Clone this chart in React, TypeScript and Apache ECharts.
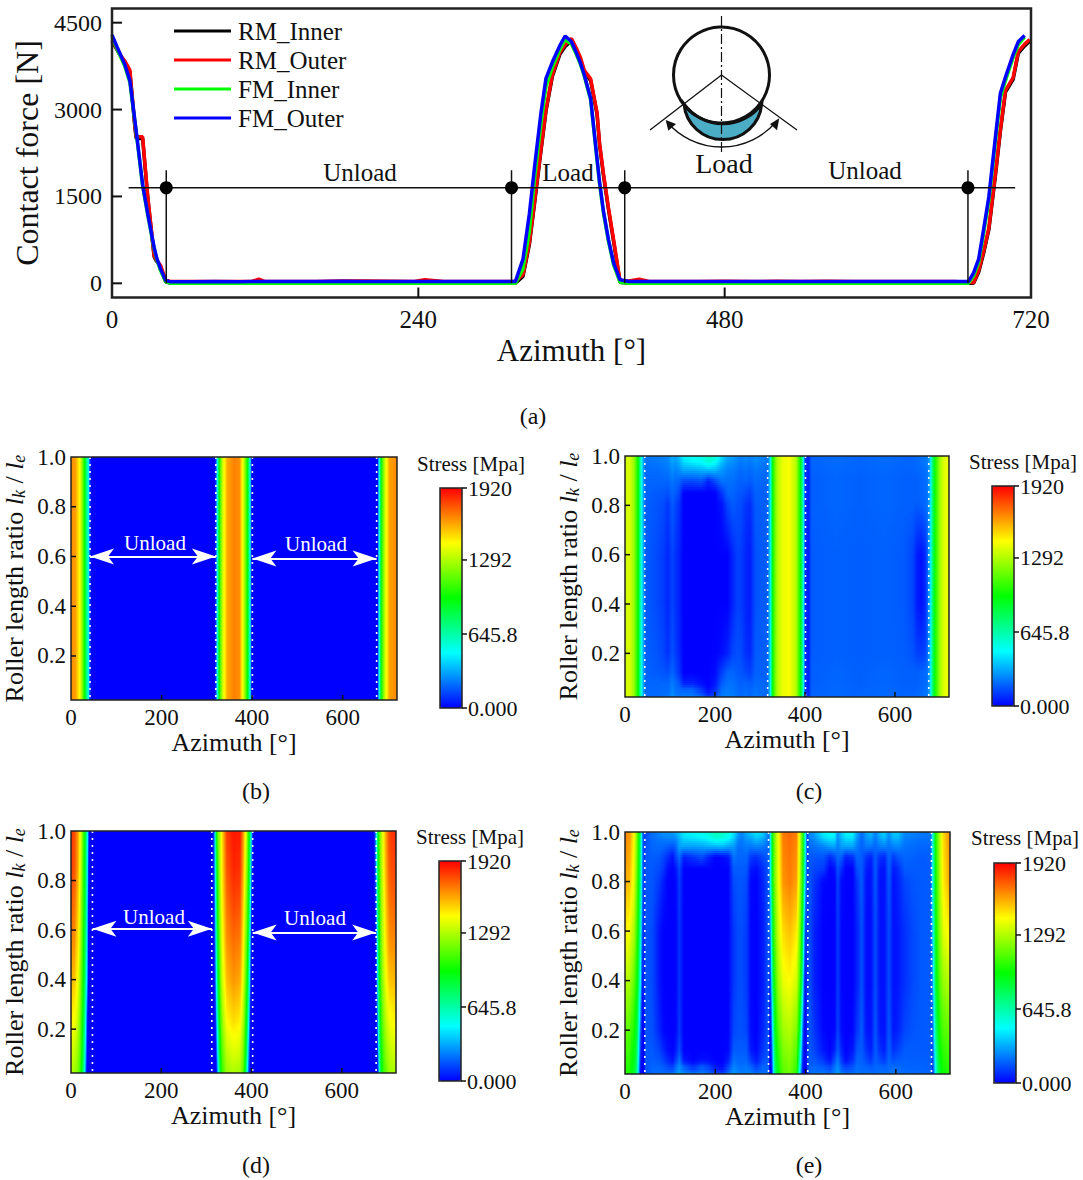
import React, { useEffect, useRef } from "react";
import * as echarts from "echarts";

const FONT = "Liberation Serif";

// ---------- (a) contact force ----------
const azimuth = [0,4,7,10,14,18,19,24,28,33,35,38,42,46,60,80,100,110,115,120,140,160,180,200,220,237,245,260,280,300,316,322,327,331,336,340,345,351,355,360,364,367,370,375,380,382,385,389,393,398,405,413,420,440,460,480,500,520,540,560,580,600,620,640,660,671,675,679,683,687,692,696,700,706,710,715,719];
const rmInner = [4180,4030,3910,3820,3650,2680,2500,2500,1480,460,380,290,30,0,0,0,0,0,0,0,0,0,0,0,0,0,0,0,0,0,0,120,670,1370,2270,2970,3570,3960,4090,4190,4020,3870,3650,3500,2920,2390,1870,1270,720,20,0,0,0,0,0,0,0,0,0,0,0,0,0,0,0,0,0,190,530,930,1840,2620,3300,3520,3970,4100,4180];
const rmOuter = [4200,4050,3930,3840,3680,2700,2530,2530,1500,480,400,310,60,30,30,30,30,35,70,30,30,30,40,40,35,30,60,30,30,30,30,150,700,1400,2300,3000,3600,3990,4120,4225,4050,3900,3680,3530,2950,2415,1900,1300,750,50,40,70,35,30,30,35,30,35,30,35,30,30,30,30,30,20,10,220,560,960,1870,2650,3330,3550,4000,4130,4210];
const fmInner = [4250,4050,3900,3750,3470,2780,2600,1680,1180,600,420,220,30,0,0,0,0,0,0,0,0,0,0,0,0,0,0,0,0,0,0,250,900,1800,2750,3400,3730,4040,4210,4130,3940,3780,3580,3170,2130,1720,1220,720,320,20,0,0,0,0,0,0,0,0,0,0,0,0,0,0,0,0,130,360,880,1430,2430,3200,3500,3900,4120,4250,null];
const fmOuter = [4290,4080,3930,3780,3500,2800,2620,1700,1200,620,440,250,50,25,25,30,25,30,30,30,30,30,35,30,30,30,30,30,30,30,30,420,1200,2000,2930,3540,3820,4110,4270,4170,3970,3800,3600,3190,2150,1750,1250,750,350,60,30,30,30,30,30,30,30,30,30,30,30,30,30,30,30,30,180,420,950,1500,2500,3280,3560,3950,4170,4280,null];
const forceSeriesNames = ["RM_Inner", "RM_Outer", "FM_Inner", "FM_Outer"];
const forceSeriesColors = ["#000000", "#ff0000", "#00ff00", "#0000ff"];
const forceSeriesValues = [rmInner, rmOuter, fmInner, fmOuter];
const boundaryLevel = 1650;
const boundaryTop = 1950;
const boundarySpan = [13, 707.6];
const boundaryAzimuths = [42.5, 313, 401.7, 670.6];
const forceTicks = [0, 1500, 3000, 4500];
const forceAzimuthTicks = [0, 240, 480, 720];
const forceYRange = [-245, 4745];

// ---------- (b)-(e) stress maps ----------
const ratioTicks = [0.2, 0.4, 0.6, 0.8, 1.0];
const mapAzimuthTicks = [0, 200, 400, 600];
const ratioRange = [0.023, 1];
const uniformY = [1, 0.023];
const gridY13 = [1, 0.97, 0.94, 0.9, 0.85, 0.8, 0.6, 0.4, 0.2, 0.12, 0.08, 0.05, 0.023];
const gridY8 = [1, 0.85, 0.7, 0.55, 0.4, 0.25, 0.1, 0.023];
const gridY6 = [1, 0.8, 0.6, 0.4, 0.2, 0.023];

// panel (b): no variation along the roller
const bAzimuth = [0,10,19,23,30,38,42,45,318,320,323,327,335,345,360,372,380,387,392,396,398,400,677,679,682,685,690,695,704,720];
const bStress = [1660,1620,1440,1300,960,520,100,0,0,120,480,960,1350,1600,1680,1650,1400,1100,800,450,100,0,0,300,620,960,1200,1400,1620,1660];

// panel (d)
const dBand1X = [0,8,16,22,26,30,33,36,38,40,44];
const dBand1 = [
  [1820,1780,1600,1350,1150,950,780,520,250,0,0],
  [1800,1760,1580,1330,1120,920,750,480,120,0,0],
  [1740,1700,1520,1280,1090,900,720,430,60,0,0],
  [1670,1640,1470,1240,1050,860,680,380,20,0,0],
  [1580,1550,1400,1190,1000,820,620,300,0,0,0],
  [1470,1440,1310,1120,940,730,440,60,0,0,0],
  [1350,1320,1220,1050,860,620,250,0,0,0,0],
  [1280,1260,1170,1000,800,540,120,0,0,0,0],
];
const dBand2X = [310,314,317,320,323,326,330,335,345,360,375,382,386,389,392,395,398,401,404];
const dBand2 = [
  [0,0,200,650,1000,1200,1300,1500,1800,1880,1870,1650,1480,1350,1150,950,750,350,0],
  [0,0,120,560,900,1120,1300,1480,1760,1850,1830,1600,1430,1290,1120,920,680,200,0],
  [0,0,60,430,800,1060,1250,1450,1700,1790,1760,1530,1350,1220,1050,840,520,50,0],
  [0,0,20,320,720,980,1200,1400,1640,1710,1680,1470,1290,1160,980,760,350,0,0],
  [0,0,0,220,600,900,1120,1340,1560,1640,1600,1400,1220,1080,890,650,200,0,0],
  [0,0,0,80,450,760,1020,1240,1450,1520,1480,1300,1120,960,760,450,50,0,0],
  [0,0,0,0,200,600,900,1120,1310,1370,1340,1180,1000,820,550,200,0,0,0],
  [0,0,0,0,80,450,820,1060,1240,1280,1260,1120,900,700,400,100,0,0,0],
];
const dBand3X = [672,676,679,682,685,688,692,698,706,720];
const dBand3 = [
  [0,300,750,1000,1180,1300,1430,1620,1800,1840],
  [0,200,680,950,1140,1270,1400,1590,1760,1800],
  [0,80,560,900,1100,1240,1360,1540,1700,1740],
  [0,30,430,850,1050,1200,1320,1490,1640,1670],
  [0,0,300,760,1000,1150,1270,1420,1550,1580],
  [0,0,150,620,900,1060,1190,1320,1430,1470],
  [0,0,0,400,780,970,1090,1210,1310,1350],
  [0,0,0,250,700,900,1040,1150,1250,1280],
];
const zeroRow = [0, 0];

// panel (c)
const cBand1X = [0,10,20,26,30,34,38,41,44];
const cBand1 = [1340,1370,1240,1050,900,650,420,300,210];
const cUnloadLX = [44,70,85,95,105,112,120,130,150,170,185,200,215,228,240,250,258,268,278,290,305,318];
const cUnloadL = [
  [220,230,240,260,330,300,360,470,520,540,600,560,420,320,300,260,240,260,240,270,250,230],
  [210,220,230,240,300,280,320,400,440,470,540,480,350,280,260,240,220,240,220,250,230,210],
  [200,200,210,220,260,240,260,300,300,320,330,330,280,240,230,210,200,210,200,220,210,200],
  [190,190,190,190,220,200,190,140,140,160,60,140,220,210,210,190,180,190,170,200,190,190],
  [185,170,165,150,190,170,130,0,0,0,0,0,100,190,190,170,160,140,120,180,180,185],
  [180,160,140,100,170,130,90,0,0,0,0,0,30,130,170,150,140,100,80,170,175,180],
  [175,140,110,70,130,90,60,0,0,0,0,0,0,0,70,120,110,70,50,150,170,175],
  [175,140,110,70,130,90,60,0,0,0,0,0,0,0,70,120,110,70,50,150,170,175],
  [180,160,130,90,150,110,70,0,0,0,0,0,20,60,130,150,140,90,70,170,175,180],
  [185,170,160,150,190,150,100,0,0,0,0,20,120,190,190,170,160,140,120,180,180,185],
  [190,190,190,190,230,200,160,60,60,20,0,40,170,210,210,190,180,190,170,200,190,190],
  [195,195,200,200,250,210,200,190,190,100,20,80,210,230,220,200,190,200,190,210,200,195],
  [200,200,210,220,280,240,220,240,240,200,110,150,240,250,240,210,200,220,200,230,210,200],
];
const cBand2X = [318,321,324,327,331,338,350,365,380,386,390,394,397,400];
const cBand2 = [230,320,500,880,1080,1280,1400,1430,1300,1100,950,700,420,130];
const cUnloadRX = [400,408,415,430,470,520,580,620,640,650,660,668,674];
const cUnloadR = [
  [100,70,190,190,200,190,200,190,190,200,210,220,240],
  [100,70,190,190,200,190,200,190,190,200,210,220,240],
  [100,65,185,185,195,185,195,185,185,190,200,210,235],
  [100,60,180,180,190,180,190,180,180,180,190,200,225],
  [100,60,180,180,190,180,190,180,180,180,190,200,225],
  [100,60,180,180,190,180,190,180,180,170,180,200,225],
  [90,50,170,175,180,175,180,170,130,50,30,80,200],
  [90,50,170,175,180,175,180,170,130,50,30,80,200],
  [90,50,170,175,180,175,180,175,155,120,110,130,210],
  [100,60,180,180,190,180,190,180,180,180,190,200,225],
  [100,60,180,180,190,180,190,180,180,180,190,200,225],
  [100,65,185,185,195,185,195,185,185,190,200,210,235],
  [100,70,190,190,200,190,200,190,190,200,210,220,240],
];
const cBand3X = [674,677,680,684,690,700,710,720];
const cBand3 = [240,300,470,750,1000,1260,1390,1400];

// panel (e)
const eBand1X = [0,10,20,26,30,34,38,41,44];
const eBand1 = [
  [1680,1640,1440,1200,980,740,300,140,100],
  [1600,1560,1380,1150,950,720,260,120,100],
  [1460,1420,1280,1080,880,640,170,90,90],
  [1300,1280,1140,980,780,480,60,60,80],
  [1150,1120,1000,860,600,200,0,20,60],
  [1030,1000,880,730,330,30,0,0,50],
];
const eUnloadLX = [44,60,75,85,95,105,112,120,130,150,170,185,200,215,228,240,250,258,268,278,290,305,318];
const eUnloadL = [
  [130,210,250,280,280,290,330,380,450,480,520,560,620,600,550,440,300,250,330,380,440,400,220],
  [140,200,220,230,240,240,250,330,400,420,440,480,540,520,470,380,250,230,280,300,360,320,200],
  [150,190,200,190,170,150,190,300,300,290,300,320,330,340,300,280,210,210,230,220,240,220,190],
  [155,175,170,130,80,30,120,200,60,100,140,60,0,10,40,220,190,190,190,110,90,140,180],
  [160,165,140,100,20,0,30,130,0,0,0,0,0,0,0,170,170,170,170,40,20,90,170],
  [160,160,110,50,0,0,10,110,0,0,0,0,0,0,0,140,160,160,140,10,0,70,170],
  [160,140,40,0,0,0,0,90,0,0,0,0,0,0,0,100,140,140,110,10,0,50,170],
  [160,140,40,0,0,0,0,90,0,0,0,0,0,0,0,100,140,140,110,10,0,50,170],
  [160,150,70,10,0,0,10,100,0,0,0,0,0,0,0,130,150,150,130,20,0,70,170],
  [160,165,130,70,20,0,40,140,0,0,0,0,0,0,10,170,170,170,170,40,10,100,175],
  [155,175,160,120,70,30,110,210,40,0,30,20,0,0,50,210,190,190,190,110,50,140,180],
  [150,190,190,170,140,120,200,270,180,90,170,120,40,20,130,250,220,210,220,190,120,190,190],
  [150,200,210,210,200,210,260,300,260,220,240,210,140,120,220,290,250,230,250,240,210,220,200],
];
const eBand2X = [318,321,324,327,331,338,350,365,380,386,390,394,397,400,404];
const eBand2 = [
  [180,470,800,1050,1200,1400,1690,1720,1680,1450,1250,1050,820,550,150],
  [170,430,760,1020,1180,1380,1640,1680,1620,1400,1200,1000,750,400,120],
  [120,270,620,950,1120,1330,1510,1560,1480,1270,1100,850,500,130,100],
  [60,120,420,820,1020,1240,1400,1440,1360,1150,980,650,200,40,80],
  [20,30,200,560,880,1100,1260,1300,1200,970,680,250,50,0,60],
  [0,0,50,300,720,950,1120,1170,1050,600,300,50,0,0,30],
];
const eUnloadRX = [404,410,420,440,455,465,472,480,490,505,515,525,535,545,555,565,575,585,595,605,620,640,660,678];
const eUnloadR = [
  [120,260,300,460,500,480,280,380,470,470,300,200,300,350,240,350,400,270,380,380,260,240,230,220],
  [120,230,260,380,430,420,260,340,410,410,270,190,270,300,220,300,340,250,330,330,240,220,210,210],
  [120,200,210,240,290,300,230,290,300,300,230,180,220,220,190,230,240,210,240,250,210,200,190,190],
  [110,170,160,160,80,130,200,180,60,90,190,170,100,60,170,90,70,190,110,160,190,180,170,180],
  [110,160,130,110,0,30,150,80,0,0,150,170,50,30,170,40,30,180,50,80,170,170,170,170],
  [110,160,100,10,0,0,120,20,0,0,100,170,30,30,160,30,30,160,30,60,130,160,170,170],
  [110,150,60,0,0,0,110,10,0,0,60,150,20,20,140,30,30,140,30,40,90,140,170,170],
  [110,150,60,0,0,0,110,10,0,0,60,150,20,20,140,30,30,140,30,40,90,140,170,170],
  [110,160,100,10,0,10,120,20,0,10,100,170,40,30,160,40,30,160,40,60,130,160,170,170],
  [110,165,130,40,0,60,170,60,0,40,160,170,90,50,170,90,50,180,90,120,170,170,170,170],
  [110,170,160,100,30,150,230,110,20,90,190,180,140,100,180,140,110,190,150,170,180,175,175,175],
  [110,185,190,170,130,210,270,170,120,160,210,190,190,170,190,190,180,200,200,200,190,185,185,180],
  [115,200,220,230,200,260,300,240,210,210,230,200,220,210,200,220,220,210,230,220,200,195,190,190],
];
const eBand3X = [678,681,684,688,692,698,706,720];
const eBand3 = [
  [220,450,700,980,1130,1320,1520,1660],
  [200,430,680,950,1110,1300,1480,1610],
  [180,350,620,900,1070,1240,1390,1470],
  [170,250,520,820,990,1140,1250,1310],
  [170,160,350,680,860,1020,1110,1160],
  [160,100,200,480,720,900,980,1030],
];

const unloadEdgesB = [42, 320, 400.6, 675];
const unloadEdgesC = [44, 317, 401, 675];
const unloadEdgesD = [47.5, 312, 402.5, 676];
const unloadEdgesE = [44, 318, 405, 679];
const stressMax = 1920;
const stressBarLabels = ["1920", "1292", "645.8", "0.000"];
const stressBarValues = [1920, 1292, 645.8, 0];
const rainbow = [[0, 0, 255], [0, 255, 255], [0, 255, 0], [255, 255, 0], [255, 0, 0]];

type Patch = { x: number[]; y: number[]; rows: number[][] };
const patch = (x: number[], y: number[], rows: number[][]): Patch => ({ x, y, rows });

const panelPatches: Patch[][] = [
  [patch(bAzimuth, uniformY, [bStress, bStress])],
  [
    patch(cBand1X, uniformY, [cBand1, cBand1]),
    patch(cUnloadLX, gridY13, cUnloadL),
    patch(cBand2X, uniformY, [cBand2, cBand2]),
    patch(cUnloadRX, gridY13, cUnloadR),
    patch(cBand3X, uniformY, [cBand3, cBand3]),
  ],
  [
    patch(dBand1X, gridY8, dBand1),
    patch([44, 310], uniformY, [zeroRow, zeroRow]),
    patch(dBand2X, gridY8, dBand2),
    patch([404, 672], uniformY, [zeroRow, zeroRow]),
    patch(dBand3X, gridY8, dBand3),
  ],
  [
    patch(eBand1X, gridY6, eBand1),
    patch(eUnloadLX, gridY13, eUnloadL),
    patch(eBand2X, gridY6, eBand2),
    patch(eUnloadRX, gridY13, eUnloadR),
    patch(eBand3X, gridY6, eBand3),
  ],
];

const panelEdges = [unloadEdgesB, unloadEdgesC, unloadEdgesD, unloadEdgesE];

// layout
const forceGrid = { left: 112, top: 8.5, width: 919, height: 289 };
const mapGrids = [
  { left: 71, top: 457, width: 326, height: 243 },
  { left: 625, top: 456, width: 324, height: 241 },
  { left: 71, top: 831, width: 325, height: 242 },
  { left: 625, top: 832, width: 325, height: 242 },
];
const mapNameGaps = [25, 27, 26, 28];
const bars = [
  { x: 440, y: 488, title: [471, 464] },
  { x: 992, y: 486, title: [1023, 462] },
  { x: 439, y: 861, title: [470, 837] },
  { x: 994, y: 863, title: [1025, 838] },
];
const barW = 22;
const barH = 220;

function stressColor(v: number) {
  const t = Math.min(0.99999, Math.max(0, v / stressMax)) * 4;
  const i = Math.floor(t);
  const f = t - i;
  const a = rainbow[i];
  const b = rainbow[i + 1];
  return `rgb(${Math.round(a[0] + (b[0] - a[0]) * f)},${Math.round(a[1] + (b[1] - a[1]) * f)},${Math.round(a[2] + (b[2] - a[2]) * f)})`;
}

function rowFill(xs: number[], vals: number[]) {
  const x0 = xs[0];
  const span = xs[xs.length - 1] - x0;
  const stops: { offset: number; color: string }[] = [];
  for (let j = 0; j < xs.length - 1; j++) {
    const n = Math.max(1, Math.ceil(Math.abs(vals[j + 1] - vals[j]) / 60));
    for (let k = 0; k < n; k++) {
      const f = k / n;
      stops.push({
        offset: (xs[j] + (xs[j + 1] - xs[j]) * f - x0) / span,
        color: stressColor(vals[j] + (vals[j + 1] - vals[j]) * f),
      });
    }
  }
  stops.push({ offset: 1, color: stressColor(vals[vals.length - 1]) });
  return new echarts.graphic.LinearGradient(0, 0, 1, 0, stops);
}

function mapSeries(patches: Patch[], axisIndex: number) {
  const cells: { p: Patch; i: number }[] = [];
  const data: number[][] = [];
  patches.forEach((p) => {
    for (let i = 0; i < p.y.length - 1; i++) {
      cells.push({ p, i });
      data.push([p.x[0], p.y[i], p.x[p.x.length - 1], p.y[i + 1]]);
    }
  });
  return {
    type: "custom",
    xAxisIndex: axisIndex,
    yAxisIndex: axisIndex,
    z: 2,
    silent: true,
    data,
    encode: { x: [0, 2], y: [1, 3] },
    renderItem: (params: any, api: any) => {
      const { p, i } = cells[params.dataIndex];
      const a = api.coord([p.x[0], p.y[i]]);
      const b = api.coord([p.x[p.x.length - 1], p.y[i + 1]]);
      const ra = p.rows[i];
      const rb = p.rows[i + 1];
      const same = ra === rb || ra.every((v, j) => v === rb[j]);
      const h = b[1] - a[1];
      const n = same ? 1 : Math.max(1, Math.round(h / 2));
      const left = Math.round(a[0]);
      const width = Math.round(b[0]) - left;
      const children: any[] = [];
      for (let k = 0; k < n; k++) {
        const t = (k + 0.5) / n;
        const vals = ra.map((v, j) => v + (rb[j] - v) * t);
        const y0 = Math.round(a[1] + (k * h) / n);
        const y1 = Math.round(a[1] + ((k + 1) * h) / n);
        children.push({
          type: "rect",
          shape: { x: left, y: y0, width, height: y1 - y0 },
          style: { fill: rowFill(p.x, vals) },
        });
      }
      return { type: "group", children };
    },
  };
}

const txt = (text: string, x: number, y: number, fontSize: number, opt: any = {}) => ({
  type: "text",
  x,
  y,
  z: 30,
  silent: true,
  style: {
    text,
    fill: opt.fill || "#111",
    fontFamily: FONT,
    fontSize,
    textAlign: opt.align || "center",
    textVerticalAlign: "middle",
  },
});

const seg = (x1: number, y1: number, x2: number, y2: number, lineWidth: number, extra: any = {}) => ({
  type: "line",
  z: 30,
  silent: true,
  shape: { x1, y1, x2, y2 },
  style: { stroke: "#111", lineWidth, ...extra },
});

const tri = (pts: number[][]) => ({
  type: "polygon",
  z: 31,
  silent: true,
  shape: { points: pts },
  style: { fill: "#111" },
});

// inward tick marks, placed from the same ranges the axes use
function axisTicks(
  g: { left: number; top: number; width: number; height: number },
  xTicks: number[],
  xMax: number,
  yTicks: number[],
  yRange: number[],
  len: number,
  lw: number
) {
  const out: any[] = [];
  const bottom = g.top + g.height;
  xTicks.forEach((v) => {
    if (v <= 0 || v >= xMax) return;
    const x = g.left + (g.width * v) / xMax;
    out.push(seg(x, bottom, x, bottom - len, lw));
  });
  yTicks.forEach((v) => {
    if (v >= yRange[1]) return;
    const y = bottom - (g.height * (v - yRange[0])) / (yRange[1] - yRange[0]);
    out.push(seg(g.left, y, g.left + len, y, lw));
  });
  return out;
}

echarts.graphic.registerShape(
  "loadZone",
  echarts.graphic.extendPath("M684 104 A48 48 0 0 0 761.7 104 A39 39 0 0 1 684 104 Z", {})
);

function buildOption() {
  const grids: any[] = [
    { ...forceGrid, show: true, z: 5, backgroundColor: "transparent", borderColor: "#222", borderWidth: 2.5 },
    ...mapGrids.map((g) => ({ ...g, show: true, z: 5, backgroundColor: "transparent", borderColor: "#222", borderWidth: 1.5 })),
  ];
  const xAxes: any[] = [
    {
      gridIndex: 0,
      type: "value",
      min: 0,
      max: 720,
      z: 6,
      name: "Azimuth [°]",
      nameLocation: "middle",
      nameGap: 37,
      nameTextStyle: { fontFamily: FONT, fontSize: 31, color: "#111" },
      axisLine: { show: false, onZero: false },
      splitLine: { show: false },
      axisTick: { show: false },
      axisLabel: { fontFamily: FONT, fontSize: 25, color: "#111", margin: 9, customValues: forceAzimuthTicks },
    },
  ];
  const yAxes: any[] = [
    {
      gridIndex: 0,
      type: "value",
      min: forceYRange[0],
      max: forceYRange[1],
      z: 6,
      name: "Contact force [N]",
      nameLocation: "middle",
      nameRotate: 90,
      nameGap: 65,
      nameTextStyle: { fontFamily: FONT, fontSize: 32, color: "#111" },
      axisLine: { show: false, onZero: false },
      splitLine: { show: false },
      axisTick: { show: false },
      axisLabel: { fontFamily: FONT, fontSize: 24, color: "#111", margin: 10, customValues: forceTicks, formatter: (v: number) => String(v) },
    },
  ];
  mapGrids.forEach((_, i) => {
    xAxes.push({
      gridIndex: i + 1,
      type: "value",
      min: 0,
      max: 720,
      z: 6,
      name: "Azimuth [°]",
      nameLocation: "middle",
      nameGap: mapNameGaps[i],
      nameTextStyle: { fontFamily: FONT, fontSize: 26, color: "#111" },
      axisLine: { show: false, onZero: false },
      splitLine: { show: false },
      axisTick: { show: false },
      axisLabel: { fontFamily: FONT, fontSize: 23, color: "#111", margin: 6, customValues: mapAzimuthTicks },
    });
    yAxes.push({
      gridIndex: i + 1,
      type: "value",
      min: ratioRange[0],
      max: ratioRange[1],
      z: 6,
      name: "Roller length ratio {i|l}{s|k} / {i|l}{s|e}",
      nameLocation: "middle",
      nameRotate: 90,
      nameGap: 43,
      nameTextStyle: {
        fontFamily: FONT,
        fontSize: 26,
        color: "#111",
        rich: {
          i: { fontFamily: FONT, fontStyle: "italic", fontSize: 26, color: "#111" },
          s: { fontFamily: FONT, fontStyle: "italic", fontSize: 18, color: "#111", verticalAlign: "bottom", lineHeight: 28 },
        },
      },
      axisLine: { show: false, onZero: false },
      splitLine: { show: false },
      axisTick: { show: false },
      axisLabel: {
        fontFamily: FONT,
        fontSize: 23,
        color: "#111",
        margin: 5,
        customValues: ratioTicks,
        formatter: (v: number) => v.toFixed(1),
      },
    });
  });

  const series: any[] = [];
  forceSeriesNames.forEach((name, i) => {
    series.push({
      name,
      type: "line",
      xAxisIndex: 0,
      yAxisIndex: 0,
      showSymbol: false,
      symbol: "none",
      z: 3 + i * 0.1,
      color: forceSeriesColors[i],
      lineStyle: { width: 3.5, color: forceSeriesColors[i] },
      data: azimuth.map((a, k) => [a, forceSeriesValues[i][k]]),
    });
  });
  series.push({
    type: "line",
    xAxisIndex: 0,
    yAxisIndex: 0,
    symbol: "none",
    z: 4,
    lineStyle: { width: 1.5, color: "#111" },
    data: [
      [boundarySpan[0], boundaryLevel],
      [boundarySpan[1], boundaryLevel],
      [NaN, NaN],
      ...boundaryAzimuths.flatMap((a) => [[a, boundaryTop], [a, 0], [NaN, NaN]]),
    ],
  });
  series.push({
    type: "scatter",
    xAxisIndex: 0,
    yAxisIndex: 0,
    symbolSize: 13,
    z: 4,
    itemStyle: { color: "#000", opacity: 1 },
    data: boundaryAzimuths.map((a) => [a, boundaryLevel]),
  });

  const visualMaps: any[] = [];
  panelPatches.forEach((patches, i) => {
    visualMaps.push({
      type: "continuous",
      min: 0,
      max: stressMax,
      dimension: 1,
      seriesIndex: series.length,
      calculable: false,
      hoverLink: false,
      orient: "vertical",
      itemWidth: barW,
      itemHeight: barH,
      left: bars[i].x,
      top: bars[i].y,
      padding: 0,
      text: null,
      showLabel: false,
      inRange: { color: rainbow.map((c) => `rgb(${c[0]},${c[1]},${c[2]})`) },
    });
    series.push(mapSeries(patches, i + 1));
    const edges = panelEdges[i];
    series.push({
      type: "line",
      xAxisIndex: i + 1,
      yAxisIndex: i + 1,
      symbol: "none",
      z: 3,
      lineStyle: { width: 1.6, color: "#fff", type: [2, 5] },
      data: edges.flatMap((a) => [[a, 1], [a, 0.023], [NaN, NaN]]),
    });
  });

  const arrows = [
    { panel: 0, y: [0.6, 0.592], edges: unloadEdgesB },
    { panel: 2, y: [0.605, 0.59], edges: unloadEdgesD },
  ];
  arrows.forEach(({ panel, y, edges }) => {
    series.push({
      type: "line",
      xAxisIndex: panel + 1,
      yAxisIndex: panel + 1,
      symbol: "none",
      z: 4,
      data: [],
      markLine: {
        silent: true,
        animation: false,
        symbol: ["arrow", "arrow"],
        symbolSize: [12, 24],
        label: { show: false },
        lineStyle: { color: "#fff", width: 1.8, type: "solid" },
        data: [
          [{ coord: [edges[0], y[0]] }, { coord: [edges[1], y[0]] }],
          [{ coord: [edges[2], y[1]] }, { coord: [edges[3], y[1]] }],
        ],
      },
    });
  });

  const graphic: any[] = [
    txt("Unload", 360, 172, 25),
    txt("Load", 568, 172, 25),
    txt("Unload", 865, 170, 25),
    txt("Load", 724, 163, 28),
    txt("(a)", 533, 416, 24),
    txt("(b)", 256, 791, 24),
    txt("(c)", 809, 791, 24),
    txt("(d)", 256, 1165, 24),
    txt("(e)", 809, 1165, 24),
    txt("Unload", 155, 543, 21, { fill: "#fff" }),
    txt("Unload", 316, 544, 21, { fill: "#fff" }),
    txt("Unload", 154, 917, 21, { fill: "#fff" }),
    txt("Unload", 315, 918, 21, { fill: "#fff" }),
    // load-zone inset
    {
      type: "loadZone",
      x: 0,
      y: 0,
      z: 29,
      silent: true,
      style: { fill: "#4badc6", stroke: "#111", lineWidth: 3 },
    },
    {
      type: "circle",
      z: 30,
      silent: true,
      shape: { cx: 721.5, cy: 75, r: 48 },
      style: { fill: "transparent", stroke: "#111", lineWidth: 3 },
    },
    seg(721.5, 16, 721.5, 152, 1.2, { lineDash: [10, 3, 2, 3] }),
    seg(721.5, 75, 650, 130, 1.3),
    seg(721.5, 75, 797, 130, 1.3),
    {
      type: "arc",
      z: 30,
      silent: true,
      shape: { cx: 721.5, cy: 75, r: 72, startAngle: 0.712, endAngle: 2.43, clockwise: true },
      style: { fill: "none", stroke: "#111", lineWidth: 1.3 },
    },
    tri([[665.7, 120], [676, 124], [668.3, 130.7]]),
    tri([[779.3, 118.3], [770, 124], [777, 130.3]]),
    ...axisTicks(forceGrid, forceAzimuthTicks, 720, forceTicks, forceYRange, 10, 2),
    ...mapGrids.flatMap((g) => axisTicks(g, mapAzimuthTicks, 720, ratioTicks, ratioRange, 5, 1.5)),
  ];
  bars.forEach((b) => {
    graphic.push(txt("Stress [Mpa]", b.title[0], b.title[1], 21));
    graphic.push({
      type: "rect",
      z: 30,
      silent: true,
      shape: { x: b.x, y: b.y, width: barW, height: barH },
      style: { fill: "transparent", stroke: "#222", lineWidth: 1.5 },
    });
    stressBarValues.forEach((v, k) => {
      const y = b.y + barH * (1 - v / stressMax);
      graphic.push(seg(b.x + barW, y, b.x + barW + 5, y, 1.5));
      graphic.push(txt(stressBarLabels[k], b.x + barW + 6, y, 22, { align: "left" }));
    });
  });

  return {
    animation: false,
    backgroundColor: "#fff",
    textStyle: { fontFamily: FONT },
    grid: grids,
    xAxis: xAxes,
    yAxis: yAxes,
    visualMap: visualMaps,
    legend: {
      show: true,
      data: forceSeriesNames,
      orient: "vertical",
      left: 174,
      top: 17,
      padding: 0,
      icon: "rect",
      itemWidth: 57,
      itemHeight: 3,
      itemGap: 1,
      selectedMode: false,
      textStyle: { fontFamily: FONT, fontSize: 25, color: "#111", lineHeight: 28, padding: [0, 0, 0, 2] },
    },
    series,
    graphic,
  };
}

export default function App() {
  const ref = useRef<HTMLDivElement>(null);
  useEffect(() => {
    const chart = echarts.init(ref.current!, undefined, { renderer: "svg" });
    chart.setOption(buildOption() as any);
    return () => chart.dispose();
  }, []);
  return <div ref={ref} style={{ position: "absolute", left: 0, top: 0, width: 1083, height: 1180 }} />;
}
